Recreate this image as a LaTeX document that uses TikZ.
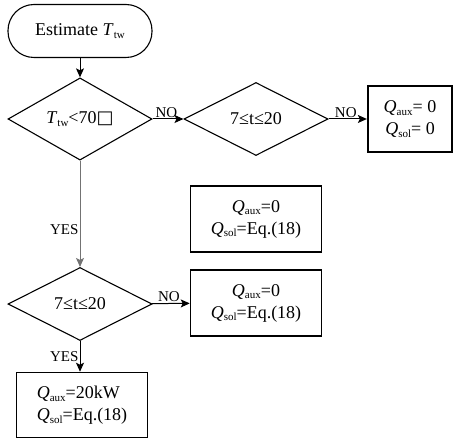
\documentclass[tikz,border=0pt]{standalone}
\usepackage{fontspec}
\setmainfont{Liberation Serif}
\newfontfamily\symfont{DejaVu Sans}
\usetikzlibrary{shapes.geometric,arrows.meta}
\newcommand{\lowsub}[1]{\raisebox{-0.35ex}{\fontsize{11}{11}\selectfont #1}}
\newcommand{\qsub}[1]{\textit{Q}\lowsub{#1}}

\begin{document}
\begin{tikzpicture}[x=1pt,y=-1pt,>={Stealth[length=9pt,width=8pt,inset=2pt]}]
\tikzstyle{every node}=[draw, line width=1.1pt, inner sep=2pt,
                        font=\fontsize{18}{22}\selectfont]
\tikzstyle{terminal}=[rounded corners=26pt, minimum width=144pt, minimum height=53pt]
\tikzstyle{decision}=[diamond, minimum width=144pt, minimum height=73pt, inner sep=0pt]
\tikzstyle{result}=[rectangle, line width=1.5pt, align=center]
\tikzstyle{lab}=[draw=none, inner sep=1pt, font=\fontsize{15}{18}\selectfont]
\useasboundingbox (0,0) rectangle (454,446);
\node[terminal] (start) at (80,31) {Estimate \textit{T}\lowsub{tw}};
\node[decision] (hot) at (80,119) {\textit{T}\lowsub{tw}<70{\symfont □}};
\node[decision] (daya) at (256,119) {7≤t≤20};
\node[result, line width=2.3pt, minimum width=84pt, minimum height=66pt] (off) at (410,119)
  {\qsub{aux}= 0\\\qsub{sol}= 0};
\node[result, minimum width=131pt, minimum height=66pt] (sola) at (256,219)
  {\qsub{aux}=0\\\qsub{sol}=Eq.(18)};
\node[decision] (dayb) at (80,304) {7≤t≤20};
\node[result, minimum width=131pt, minimum height=66pt] (solb) at (256,303)
  {\qsub{aux}=0\\\qsub{sol}=Eq.(18)};
\node[result, align=left, minimum width=131pt, minimum height=65pt] (aux) at (82,405)
  {\qsub{aux}=20kW\\\qsub{sol}=Eq.(18)};
\draw[->, line width=1pt] (start) -- (hot);
\foreach \i/\j in {hot/daya,daya/off,dayb/solb}{\draw[->, line width=1pt] (\i) -- node[lab, above, pos=0.45]{NO} (\j);}
\draw[->, line width=1pt, black!55] (hot) -- node[lab, left, pos=0.65, black]{YES} (dayb);
\draw[->, line width=1pt] (dayb) -- node[lab, left]{YES} (dayb |- aux.north);
\end{tikzpicture}
\end{document}
